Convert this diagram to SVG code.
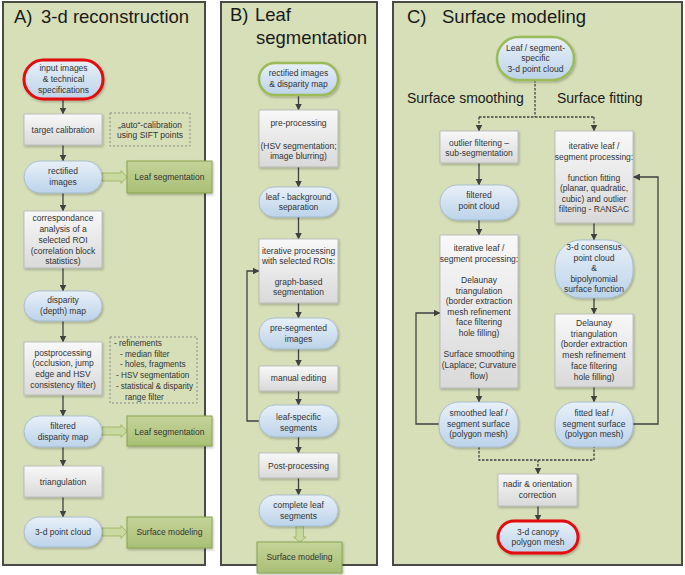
<svg xmlns="http://www.w3.org/2000/svg" width="685" height="575" viewBox="0 0 685 575">
<defs>
<linearGradient id="gBlue" x1="0" y1="0" x2="0" y2="1">
<stop offset="0" stop-color="#e8f0f8"/><stop offset="1" stop-color="#bcd3ea"/>
</linearGradient>
<linearGradient id="gGrey" x1="0" y1="0" x2="0" y2="1">
<stop offset="0" stop-color="#f8f8f8"/><stop offset="1" stop-color="#d9d9d9"/>
</linearGradient>
<linearGradient id="gOlive" x1="0" y1="0" x2="0" y2="1">
<stop offset="0" stop-color="#c4d49a"/><stop offset="1" stop-color="#a9bf74"/>
</linearGradient>
<filter id="sh" x="-10%" y="-10%" width="130%" height="130%">
<feDropShadow dx="1" dy="1.5" stdDeviation="1" flood-color="#000" flood-opacity="0.25"/>
</filter>
<marker id="ah" markerUnits="userSpaceOnUse" markerWidth="7" markerHeight="7" refX="6.5" refY="3.5" orient="auto">
<path d="M0,0 L7,3.5 L0,7 z" fill="#404040"/>
</marker>
<style>
.panel{fill:#d6dfb8;stroke:#4a4a4a;stroke-width:2}
.title{font-family:"Liberation Sans",Arial,sans-serif;font-size:18.5px;fill:#1a1a1a}
.sub{font-family:"Liberation Sans",Arial,sans-serif;font-size:14px;fill:#1a1a1a}
.t{font-family:"Liberation Sans",Arial,sans-serif;font-size:8.5px;fill:#333;text-anchor:middle}
.tl{font-family:"Liberation Sans",Arial,sans-serif;font-size:8.2px;fill:#333}
.term{fill:url(#gBlue);stroke:#9fb6cf;stroke-width:0.8;filter:url(#sh)}
.proc{fill:url(#gGrey);stroke:#b4b4b4;stroke-width:0.8;filter:url(#sh)}
.olive{fill:url(#gOlive);stroke:#8aa250;stroke-width:1;filter:url(#sh)}
.red{stroke:#e30b0b;stroke-width:3}
.grn{stroke:#9bbb59;stroke-width:2.5}
.note{fill:none;stroke:#8a8a8a;stroke-width:1;stroke-dasharray:2,2}
.fat{fill:#c9d99f;stroke:#9ab05c;stroke-width:0.8}
.conn{stroke:#404040;stroke-width:1.3;fill:none}
.arr{marker-end:url(#ah)}
.dash{stroke-dasharray:2.5,1.5}
</style>
</defs>

<g id="panels">
<rect class="panel" x="3" y="2" width="202" height="563"/>
<rect class="panel" x="221" y="2" width="156" height="563"/>
<rect class="panel" x="393" y="2" width="289" height="563"/>
<text class="title" x="14" y="23">A)</text>
<text class="title" x="41" y="23">3-d reconstruction</text>
<text class="title" x="230" y="21">B)</text>
<text class="title" x="255" y="21">Leaf</text>
<text class="title" x="256" y="43.5">segmentation</text>
<text class="title" x="407" y="23">C)</text>
<text class="title" x="442" y="23">Surface modeling</text>
<text class="sub" x="407" y="103">Surface smoothing</text>
<text class="sub" x="557" y="103">Surface fitting</text>
</g>

<g id="connectors">
<path class="conn arr" d="M63,99 V114"/>
<path class="conn arr" d="M63,145 V161"/>
<path class="conn arr" d="M63,193 V211"/>
<path class="conn arr" d="M63,268 V291"/>
<path class="conn arr" d="M63,321 V342"/>
<path class="conn arr" d="M63,395 V416"/>
<path class="conn arr" d="M63,447 V466"/>
<path class="conn arr" d="M63,497 V517"/>
<path class="fat" d="M102,173 H121 V170.5 L127,177 L121,183.5 V181 H102 z"/>
<path class="fat" d="M102,427 H121 V424.5 L127,431 L121,437.5 V435 H102 z"/>
<path class="fat" d="M102,528 H121 V525.5 L127,532 L121,538.5 V536 H102 z"/>

<path class="conn arr" d="M298.5,95 V110"/>
<path class="conn arr" d="M298.5,167 V187"/>
<path class="conn arr" d="M298.5,217 V239"/>
<path class="conn arr" d="M298.5,303 V318"/>
<path class="conn arr" d="M298.5,349 V366"/>
<path class="conn arr" d="M298.5,391 V405"/>
<path class="conn arr" d="M298.5,437 V453"/>
<path class="conn arr" d="M298.5,478 V495"/>
<path class="conn arr" d="M259,421 H247 V271 H259"/>
<path class="fat" d="M296,526 H303.5 V537 H306 L299.75,542 L293.5,537 H296 z"/>

<path class="conn dash" d="M535,80 V117 M479,117 H594"/>
<path class="conn dash arr" d="M479,117 V131"/>
<path class="conn dash arr" d="M594,117 V131"/>
<path class="conn arr" d="M479,163 V185"/>
<path class="conn arr" d="M479,220 V235"/>
<path class="conn arr" d="M479,388 V402"/>
<path class="conn arr" d="M594,223 V240"/>
<path class="conn arr" d="M594,298 V314"/>
<path class="conn arr" d="M594,387 V402"/>
<path class="conn arr" d="M439,424 H416 V313 H440"/>
<path class="conn arr" d="M633,424 H658 V177 H633.5"/>
<path class="conn dash" d="M479,447 V460 H594 V447"/>
<path class="conn dash arr" d="M538,460 V474"/>
<path class="conn arr" d="M538,506 V521"/>
</g>

<g id="n_input"><rect class="term red" x="24" y="60" width="79" height="39" rx="19.5"/>
<text class="t" x="63.5" y="71">input images</text><text class="t" x="63.5" y="82">&amp; technical</text><text class="t" x="63.5" y="92.5">specifications</text></g>
<g id="n_target"><rect class="proc" x="24" y="114" width="78" height="31"/>
<text class="t" x="63" y="132.5">target calibration</text></g>
<g id="n_auto"><rect class="note" x="110" y="113" width="80" height="33"/>
<text class="t" x="150" y="127.5">„auto“-calibration</text><text class="t" x="150" y="138">using SIFT points</text></g>
<g id="n_rectified"><rect class="term" x="24" y="161" width="78" height="32" rx="16"/>
<text class="t" x="63" y="174">rectified</text><text class="t" x="63" y="185">images</text></g>
<g id="n_leafseg1"><rect class="olive" x="127" y="161" width="85" height="32"/>
<text class="t" x="169.5" y="180">Leaf segmentation</text></g>
<g id="n_corr"><rect class="proc" x="24" y="211" width="78" height="57"/>
<text class="t" x="63" y="221.3">correspondance</text><text class="t" x="63" y="232.3">analysis of a</text><text class="t" x="63" y="243">selected ROI</text><text class="t" x="63" y="253.7">(correlation block</text><text class="t" x="63" y="264">statistics)</text></g>
<g id="n_disp"><rect class="term" x="24" y="291" width="78" height="30" rx="15"/>
<text class="t" x="63" y="303">disparity</text><text class="t" x="63" y="313.7">(depth) map</text></g>
<g id="n_post"><rect class="proc" x="24" y="342" width="78" height="53"/>
<text class="t" x="63" y="355.7">postprocessing</text><text class="t" x="63" y="366.3">(occlusion, jump</text><text class="t" x="63" y="377">edge and HSV</text><text class="t" x="63" y="387.7">consistency filter)</text></g>
<g id="n_refine"><rect class="note" x="110" y="337" width="87" height="66"/>
<text class="tl" x="114" y="346.3">- refinements</text><text class="tl" x="120" y="357">- median filter</text><text class="tl" x="120" y="367.3">- holes, fragments</text><text class="tl" x="116" y="378">- HSV segmentation</text><text class="tl" x="116" y="388.7" textLength="77" lengthAdjust="spacingAndGlyphs">- statistical &amp; disparity</text><text class="tl" x="125" y="399.7">range filter</text></g>
<g id="n_filtdisp"><rect class="term" x="24" y="416" width="78" height="31" rx="15.5"/>
<text class="t" x="63" y="429">filtered</text><text class="t" x="63" y="439.7">disparity map</text></g>
<g id="n_leafseg2"><rect class="olive" x="127" y="416" width="85" height="30"/>
<text class="t" x="169.5" y="434.5">Leaf segmentation</text></g>
<g id="n_tri"><rect class="proc" x="24" y="466" width="78" height="31"/>
<text class="t" x="63" y="484.5">triangulation</text></g>
<g id="n_pc"><rect class="term" x="24" y="517" width="78" height="30" rx="15"/>
<text class="t" x="63" y="535">3-d point cloud</text></g>
<g id="n_surfmod1"><rect class="olive" x="127" y="517" width="85" height="31"/>
<text class="t" x="169.5" y="535">Surface modeling</text></g>

<g id="n_b_rect"><rect class="term grn" x="259" y="63" width="79" height="32" rx="16"/>
<text class="t" x="298.5" y="76.3">rectified images</text><text class="t" x="298.5" y="87.3">&amp; disparity map</text></g>
<g id="n_pre"><rect class="proc" x="259" y="110" width="79" height="57"/>
<text class="t" x="298.5" y="126.3">pre-processing</text><text class="t" x="298.5" y="148.7">(HSV segmentation;</text><text class="t" x="298.5" y="159">image blurring)</text></g>
<g id="n_sep"><rect class="term" x="259" y="187" width="79" height="30" rx="15"/>
<text class="t" x="298.5" y="199.7">leaf - background</text><text class="t" x="298.5" y="210.3">separation</text></g>
<g id="n_iter"><rect class="proc" x="259" y="239" width="79" height="64"/>
<text class="t" x="298.5" y="253.7">iterative processing</text><text class="t" x="298.5" y="264">with selected ROIs:</text><text class="t" x="298.5" y="284.7">graph-based</text><text class="t" x="298.5" y="295.3">segmentation</text></g>
<g id="n_preseg"><rect class="term" x="259" y="318" width="79" height="31" rx="15.5"/>
<text class="t" x="298.5" y="331.3">pre-segmented</text><text class="t" x="298.5" y="342.3">images</text></g>
<g id="n_manual"><rect class="proc" x="259" y="366" width="79" height="25"/>
<text class="t" x="298.5" y="380.7">manual editing</text></g>
<g id="n_leafspec"><rect class="term" x="259" y="405" width="79" height="32" rx="16"/>
<text class="t" x="298.5" y="419.7">leaf-specific</text><text class="t" x="298.5" y="430.7">segments</text></g>
<g id="n_postp"><rect class="proc" x="259" y="453" width="79" height="25"/>
<text class="t" x="298.5" y="469">Post-processing</text></g>
<g id="n_complete"><rect class="term" x="259" y="495" width="79" height="31" rx="15.5"/>
<text class="t" x="298.5" y="508">complete leaf</text><text class="t" x="298.5" y="518.7">segments</text></g>
<g id="n_surfmod2"><rect class="olive" x="257" y="542" width="85" height="31"/>
<text class="t" x="299.5" y="560">Surface modeling</text></g>

<g id="n_c_top"><rect class="term grn" x="497" y="37" width="77" height="43" rx="21.5"/>
<text class="t" x="535.5" y="50.7">Leaf / segment-</text><text class="t" x="535.5" y="61.3">specific</text><text class="t" x="535.5" y="72.3">3-d point cloud</text></g>
<g id="n_outlier"><rect class="proc" x="440" y="131" width="78" height="32"/>
<text class="t" x="479" y="145.7">outlier filtering –</text><text class="t" x="479" y="156.3">sub-segmentation</text></g>
<g id="n_filtpc"><rect class="term" x="440" y="185" width="78" height="35" rx="17.5"/>
<text class="t" x="479" y="198">filtered</text><text class="t" x="479" y="209">point cloud</text></g>
<g id="n_iterL"><rect class="proc" x="440" y="235" width="78" height="153"/>
<text class="t" x="479" y="251.3">iterative leaf /</text><text class="t" x="479" y="262">segment processing:</text>
<text class="t" x="479" y="283">Delaunay</text><text class="t" x="479" y="293.7">triangulation</text><text class="t" x="479" y="304">(border extraction</text><text class="t" x="479" y="314.7">mesh refinement</text><text class="t" x="479" y="325.3">face filtering</text><text class="t" x="479" y="336.3">hole filling)</text>
<text class="t" x="479" y="357.3">Surface smoothing</text><text class="t" x="479" y="368">(Laplace; Curvature</text><text class="t" x="479" y="378.7">flow)</text></g>
<g id="n_smoothed"><rect class="term" x="439" y="402" width="79" height="45" rx="20"/>
<text class="t" x="478.5" y="416.3">smoothed leaf /</text><text class="t" x="478.5" y="427.3">segment surface</text><text class="t" x="478.5" y="437.3">(polygon mesh)</text></g>
<g id="n_iterR"><rect class="proc" x="555" y="131" width="78" height="92"/>
<text class="t" x="594" y="148.7">iterative leaf /</text><text class="t" x="594" y="159.7">segment processing:</text>
<text class="t" x="594" y="180.7">function fitting</text><text class="t" x="594" y="191.3">(planar, quadratic,</text><text class="t" x="594" y="201.7">cubic) and outlier</text><text class="t" x="594" y="212.3">filtering - RANSAC</text></g>
<g id="n_consensus"><rect class="term" x="555" y="240" width="78" height="58" rx="26"/>
<text class="t" x="594" y="249.7">3-d consensus</text><text class="t" x="594" y="260.7">point cloud</text><text class="t" x="594" y="271.3">&amp;</text><text class="t" x="594" y="281.7">bipolynomial</text><text class="t" x="594" y="292">surface function</text></g>
<g id="n_delR"><rect class="proc" x="555" y="314" width="78" height="73"/>
<text class="t" x="594" y="326.3">Delaunay</text><text class="t" x="594" y="337">triangulation</text><text class="t" x="594" y="347.3">(border extraction</text><text class="t" x="594" y="358">mesh refinement</text><text class="t" x="594" y="369">face filtering</text><text class="t" x="594" y="379.7">hole filling)</text></g>
<g id="n_fitted"><rect class="term" x="555" y="402" width="78" height="45" rx="20"/>
<text class="t" x="594" y="416.3">fitted leaf /</text><text class="t" x="594" y="427.3">segment surface</text><text class="t" x="594" y="437.3">(polygon mesh)</text></g>
<g id="n_nadir"><rect class="proc" x="498" y="474" width="79" height="32"/>
<text class="t" x="537.5" y="487.3">nadir &amp; orientation</text><text class="t" x="537.5" y="498">correction</text></g>
<g id="n_canopy"><rect class="term red" x="498" y="521" width="80" height="32" rx="16"/>
<text class="t" x="538" y="534.7">3-d canopy</text><text class="t" x="538" y="545.3">polygon mesh</text></g>
</svg>
